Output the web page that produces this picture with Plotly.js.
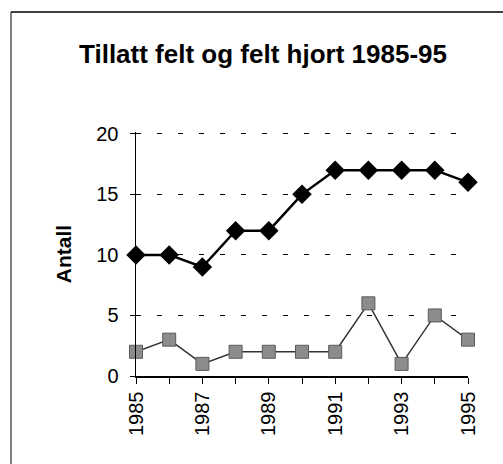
<!DOCTYPE html>
<html>
<head>
<meta charset="utf-8">
<script src="https://cdn.plot.ly/plotly-3.0.1.min.js"></script>
<style>
html,body{margin:0;padding:0;background:#fff;}
#chart{width:503px;height:464px;}
</style>
</head>
<body>
<div id="chart"></div>
<script>
const years = [1985,1986,1987,1988,1989,1990,1991,1992,1993,1994,1995];
const tillattFelt = [10,10,9,12,12,15,17,17,17,17,16];
const feltHjort = [2,3,1,2,2,2,2,6,1,5,3];
const yTicks = [0,5,10,15,20];
const xTickText = years.map(y => (y % 2 === 1) ? String(y) : '');

const font = 'Liberation Sans, Arial, Helvetica, sans-serif';

const traces = [
  {
    x: years, y: tillattFelt, type: 'scatter', mode: 'lines+markers',
    name: 'Tillatt felt',
    line: {color: '#000', width: 2.5},
    marker: {symbol: 'diamond', size: 15, color: '#000'},
    cliponaxis: false
  },
  {
    x: years, y: feltHjort, type: 'scatter', mode: 'lines+markers',
    name: 'Felt hjort',
    line: {color: '#333', width: 1.5},
    marker: {symbol: 'square', size: 13, color: '#8c8c8c', line: {color: '#5a5a5a', width: 1}},
    cliponaxis: false
  }
];

const L = 136, R = 35, T = 132, B = 88;
const pw = 503 - L - R, ph = 464 - T - B;
const px = v => (v - L) / pw;
const py = v => (464 - B - v) / ph;

const layout = {
  width: 503, height: 464,
  margin: {l: L, r: R, t: T, b: B},
  paper_bgcolor: '#fff', plot_bgcolor: '#fff',
  showlegend: false,
  font: {family: font, color: '#000'},
  title: {
    text: '<b>Tillatt felt og felt hjort 1985-95</b>',
    font: {family: font, size: 26, color: '#000'},
    xref: 'container', yref: 'container',
    x: 263/503, xanchor: 'center',
    y: 1 - 54/464, yanchor: 'middle'
  },
  xaxis: {
    range: [1985, 1995],
    tickvals: years, ticktext: xTickText,
    tickangle: -90,
    ticks: 'outside', ticklen: 6, tickcolor: '#000', tickwidth: 1,
    showline: true, linecolor: '#000', linewidth: 1.5,
    showgrid: false, zeroline: false,
    tickfont: {family: font, size: 20, color: '#000'}
  },
  yaxis: {
    range: [0, 20.15],
    tickvals: yTicks,
    ticks: 'outside', ticklen: 5, tickcolor: '#000', tickwidth: 1,
    ticklabelstandoff: 7,
    showline: true, linecolor: '#000', linewidth: 1.5,
    showgrid: true, gridcolor: '#000', gridwidth: 1, griddash: '5px,16px',
    zeroline: false,
    tickfont: {family: font, size: 20, color: '#000'},
    title: {text: '<b>Antall</b>', font: {family: font, size: 21, color: '#000'}, standoff: 19}
  },
  shapes: [
    {type: 'line', xref: 'paper', yref: 'paper', x0: px(11), x1: px(503), y0: py(12), y1: py(12), line: {color: '#000', width: 1.5}},
    {type: 'line', xref: 'paper', yref: 'paper', x0: px(11), x1: px(11), y0: py(12), y1: py(464), line: {color: '#000', width: 1}}
  ]
};

Plotly.newPlot('chart', traces, layout, {displayModeBar: false, staticPlot: true});
</script>
</body>
</html>
